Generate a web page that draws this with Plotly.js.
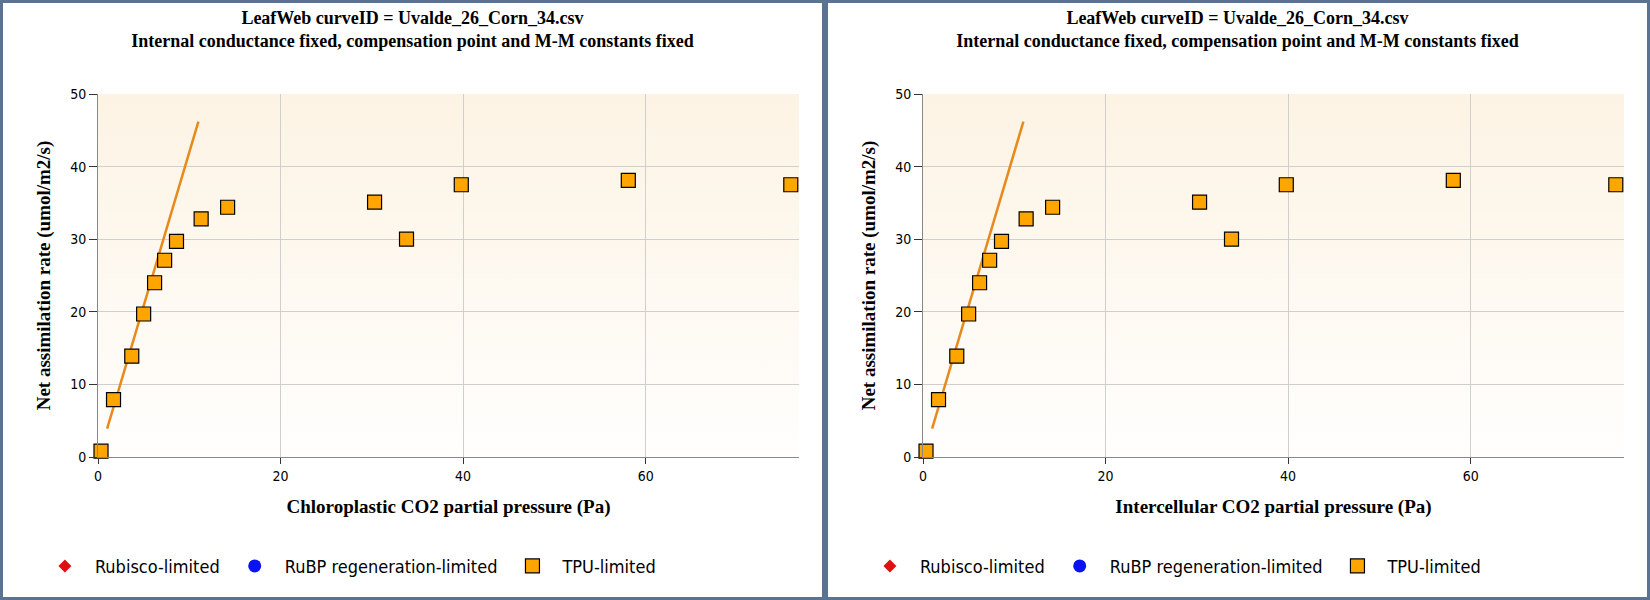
<!DOCTYPE html>
<html>
<head>
<meta charset="utf-8">
<script src="https://cdn.plot.ly/plotly-3.0.1.min.js"></script>
<style>
  body { margin: 0; background: #fff; }
  .panel { float: left; width: 819px; height: 594px; border: 3px solid #5b7393; }
</style>
</head>
<body>
<div id="left" class="panel"></div>
<div id="right" class="panel"></div>
<script>
// TPU-limited observations
const tpuX = [0.33, 1.7, 3.7, 5.0, 6.2, 7.3, 8.6, 11.3, 14.2, 30.3, 33.8, 39.8, 58.1, 75.9]
const tpuY = [0.8, 7.9, 13.9, 19.7, 24.0, 27.1, 29.7, 32.8, 34.4, 35.1, 30.0, 37.5, 38.1, 37.5]
// fitted line ends
const fitX = [1.0, 11.0]
const fitY = [3.9, 46.2]

const titleText = 'LeafWeb curveID = Uvalde_26_Corn_34.csv<br>Internal conductance fixed, compensation point and M-M constants fixed'
const grad = 'data:image/svg+xml;utf8,' + encodeURIComponent(
  '<svg xmlns="http://www.w3.org/2000/svg" width="10" height="100" preserveAspectRatio="none">' +
  '<defs><linearGradient id="g" x1="0" y1="0" x2="0" y2="1">' +
  '<stop offset="0" stop-color="#fcf3e3"/><stop offset="1" stop-color="#fffefd"/></linearGradient></defs>' +
  '<rect width="10" height="100" fill="url(#g)"/></svg>')

function draw(id, xTitle) {
  const traces = [
    { x: fitX, y: fitY, type: 'scatter', mode: 'lines', line: { color: '#e8891c', width: 2.5 }, showlegend: false, hoverinfo: 'skip' },
    { x: [null], y: [null], type: 'scatter', mode: 'markers', name: 'Rubisco-limited',
      marker: { symbol: 'diamond', color: '#e01010', size: 10 } },
    { x: [null], y: [null], type: 'scatter', mode: 'markers', name: 'RuBP regeneration-limited',
      marker: { symbol: 'circle', color: '#0a14f0', size: 13 } },
    { x: tpuX, y: tpuY, type: 'scatter', mode: 'markers', name: 'TPU-limited', cliponaxis: false,
      marker: { symbol: 'square', color: '#ffa500', size: 14, line: { color: '#000', width: 1.2 } } }
  ]
  const axisFont = { family: 'DejaVu Sans Condensed', size: 14, color: '#000' }
  const layout = {
    width: 819, height: 594,
    margin: { l: 95, r: 23, t: 91, b: 118 },
    paper_bgcolor: '#fff',
    plot_bgcolor: 'rgba(0,0,0,0)',
    title: { text: titleText, x: 0.5, y: 0.965, yanchor: 'top',
      font: { family: 'Liberation Serif', size: 18, color: '#000', weight: 'bold' } },
    images: [{ source: grad, xref: 'paper', yref: 'paper', x: 0, y: 1, sizex: 1, sizey: 1,
      sizing: 'stretch', layer: 'below' }],
    xaxis: { range: [0, 76.8], dtick: 20, tick0: 0, showgrid: true, gridcolor: '#cfcfcf',
      zeroline: false, showline: true, linecolor: '#888', ticks: 'outside', ticklen: 6, tickcolor: '#333',
      tickfont: axisFont,
      title: { text: xTitle, standoff: 16, font: { family: 'Liberation Serif', size: 19, color: '#000', weight: 'bold' } } },
    yaxis: { range: [0, 50], dtick: 10, showgrid: true, gridcolor: '#cfcfcf',
      zeroline: false, showline: true, linecolor: '#888', ticks: 'outside', ticklen: 8, tickcolor: '#333',
      tickfont: axisFont,
      title: { text: 'Net assimilation rate (umol/m2/s)', standoff: 14,
        font: { family: 'Liberation Serif', size: 19, color: '#000', weight: 'bold' } } },
    legend: { orientation: 'h', x: -0.09, xanchor: 'left', y: -0.25, yanchor: 'top',
      font: { family: 'DejaVu Sans Condensed', size: 18, color: '#000' }, itemwidth: 50, tracegroupgap: 0 }
  }
  Plotly.newPlot(id, traces, layout, { displayModeBar: false, staticPlot: true })
}

draw('left', 'Chloroplastic CO2 partial pressure (Pa)')
draw('right', 'Intercellular CO2 partial pressure (Pa)')
</script>
</body>
</html>
